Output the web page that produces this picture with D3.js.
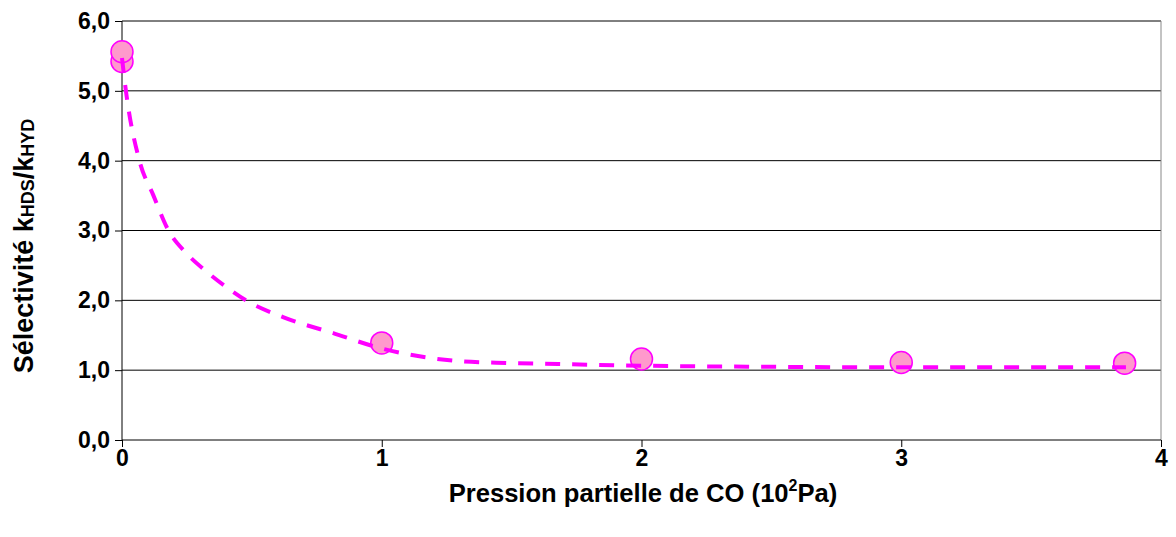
<!DOCTYPE html>
<html>
<head>
<meta charset="utf-8">
<script src="https://cdn.jsdelivr.net/npm/d3@7/dist/d3.min.js"></script>
<style>
  html, body { margin: 0; padding: 0; background: #fff; }
  svg { display: block; }
  text { font-family: "Liberation Sans", Arial, sans-serif; font-weight: bold; fill: #000; }
</style>
</head>
<body>
<svg id="chart" width="1176" height="537"></svg>
<script>
// Measured selectivity k_HDS / k_HYD versus CO partial pressure (10^2 Pa)
const pressure    = [0, 0, 1, 2, 3, 3.86];
const selectivity = [5.42, 5.56, 1.39, 1.16, 1.11, 1.10];

// Fitted trend (dashed), sampled along the curve
const trendX = [0, 0.015, 0.067, 0.12, 0.179, 0.249, 0.326, 0.409, 0.477, 0.62, 0.813, 1.0, 1.28, 1.44, 1.68, 2.0, 2.5, 3.0, 3.5, 3.865];
const trendY = [5.47, 5.0, 4.0, 3.51, 3.0, 2.67, 2.41, 2.17, 2.0, 1.76, 1.53, 1.31, 1.135, 1.107, 1.088, 1.064, 1.048, 1.04, 1.04, 1.04];

const yTicks = [0, 1, 2, 3, 4, 5, 6];
const xTicks = [0, 1, 2, 3, 4];

const svg = d3.select("#chart");
const plot = { left: 122, right: 1161, top: 21, bottom: 440 };

const x = d3.scaleLinear().domain([0, 4]).range([plot.left, plot.right]);
const y = d3.scaleLinear().domain([0, 6]).range([plot.bottom, plot.top]);

// horizontal gridlines
svg.append("g").selectAll("line")
  .data(yTicks.filter(d => d > 0))
  .join("line")
  .attr("x1", plot.left).attr("x2", plot.right)
  .attr("y1", d => y(d)).attr("y2", d => y(d))
  .attr("stroke", "#000").attr("stroke-width", 1);

// right border of the plot area
svg.append("line")
  .attr("x1", plot.right).attr("x2", plot.right)
  .attr("y1", plot.top).attr("y2", plot.bottom)
  .attr("stroke", "#888").attr("stroke-width", 1);

// y axis
const yAxis = svg.append("g")
  .attr("transform", `translate(${plot.left},0)`)
  .call(d3.axisLeft(y).tickValues(yTicks).tickSize(7).tickPadding(5)
    .tickFormat(d => d3.format(".1f")(d).replace(".", ",")));
yAxis.select(".domain").attr("stroke", "#000").attr("d", `M0,${plot.top}V${plot.bottom}`);
yAxis.selectAll(".tick line").attr("stroke", "#000");
yAxis.selectAll(".tick text").attr("font-size", 23).attr("font-family", null);

// x axis
const xAxis = svg.append("g")
  .attr("transform", `translate(0,${plot.bottom})`)
  .call(d3.axisBottom(x).tickValues(xTicks).tickSize(7).tickPadding(3)
    .tickFormat(d3.format("d")));
xAxis.select(".domain").attr("stroke", "#000").attr("d", `M${plot.left},0H${plot.right}`);
xAxis.selectAll(".tick line").attr("stroke", "#000");
xAxis.selectAll(".tick text").attr("font-size", 23).attr("font-family", null);

// measured points
svg.append("g").selectAll("circle")
  .data(pressure.map((p, i) => [p, selectivity[i]]))
  .join("circle")
  .attr("cx", d => x(d[0])).attr("cy", d => y(d[1]))
  .attr("r", 11)
  .attr("fill", "#FF99CC").attr("stroke", "#FF00FF").attr("stroke-width", 1.5);

// dashed trend curve, drawn over the markers
const line = d3.line()
  .x(d => x(d[0])).y(d => y(d[1]))
  .curve(d3.curveMonotoneX);
svg.append("path")
  .datum(trendX.map((t, i) => [t, trendY[i]]))
  .attr("d", line)
  .attr("fill", "none")
  .attr("stroke", "#FF00FF").attr("stroke-width", 4)
  .attr("stroke-dasharray", "15,12");

// x axis title with superscript
const xt = svg.append("text")
  .attr("x", 643).attr("y", 502)
  .attr("text-anchor", "middle").attr("font-size", 25.6);
xt.append("tspan").text("Pression partielle de CO (10");
xt.append("tspan").text("2").attr("font-size", 16).attr("dy", -11);
xt.append("tspan").text("Pa)").attr("dy", 11);

// y axis title with subscripts
const yt = svg.append("text")
  .attr("transform", `translate(33,246) rotate(-90)`)
  .attr("text-anchor", "middle").attr("font-size", 27);
yt.append("tspan").text("Sélectivité k");
yt.append("tspan").text("HDS").attr("font-size", 18).attr("dy", 1);
yt.append("tspan").text("/k").attr("dy", -1);
yt.append("tspan").text("HYD").attr("font-size", 18).attr("dy", 1);
</script>
</body>
</html>
